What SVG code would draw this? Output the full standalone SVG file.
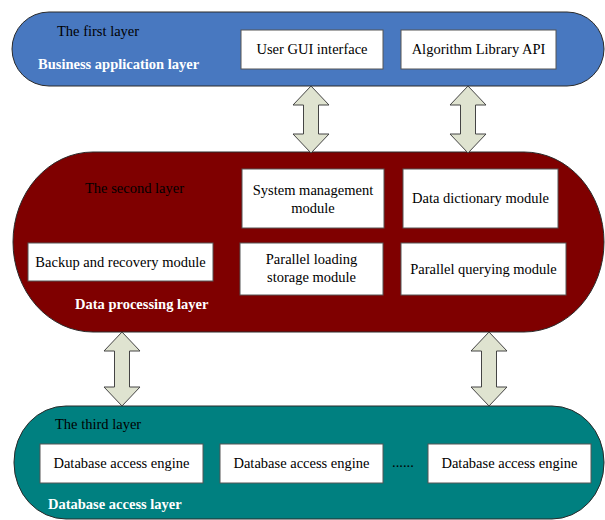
<svg xmlns="http://www.w3.org/2000/svg" width="605" height="520" viewBox="0 0 605 520">
<defs>
<style>
.layer{stroke:#2a2a2a;stroke-width:1}
.box{fill:#ffffff;stroke:#555555;stroke-width:1}
.t{font-family:"Liberation Serif","Times New Roman",serif;font-size:14.5px;fill:#000000}
.c{text-anchor:middle}
.lbl{font-family:"Liberation Serif","Times New Roman",serif;font-size:14.5px;font-weight:bold;fill:#ffffff}
.arr{fill:#dfe3d0;stroke:#444444;stroke-width:1}
</style>
</defs>
<g id="layer1">
<rect class="layer" x="12" y="12" width="592" height="74" rx="37" ry="37" fill="#4878c0"/>
<text class="t" x="57" y="36">The first layer</text>
<text class="lbl" x="38" y="69">Business application layer</text>
</g>
<g id="layer2">
<rect class="layer" x="13" y="152" width="591" height="180" rx="80" ry="90" fill="#7f0000"/>
<text class="t" x="85" y="193">The second layer</text>
<text class="lbl" x="75" y="309">Data processing layer</text>
</g>
<g id="layer3">
<rect class="layer" x="14" y="406" width="590" height="113" rx="52" ry="56" fill="#008080"/>
<text class="t" x="55" y="429">The third layer</text>
<text class="lbl" x="48" y="509">Database access layer</text>
</g>
<g id="gui"><rect class="box" x="241" y="30" width="142" height="39"/><text class="t c" x="312" y="54">User GUI interface</text></g>
<g id="api"><rect class="box" x="401" y="30" width="155" height="39"/><text class="t c" x="478.5" y="54">Algorithm Library API</text></g>
<g id="sysmgmt"><rect class="box" x="242" y="169" width="142" height="59"/><text class="t c" x="313" y="195">System management</text><text class="t c" x="313" y="213">module</text></g>
<g id="datadict"><rect class="box" x="403" y="169" width="155" height="59"/><text class="t c" x="480.5" y="203">Data dictionary module</text></g>
<g id="backup"><rect class="box" x="28" y="243" width="185" height="38"/><text class="t c" x="120.5" y="267">Backup and recovery module</text></g>
<g id="pload"><rect class="box" x="240" y="243" width="143" height="52"/><text class="t c" x="311.5" y="264">Parallel loading</text><text class="t c" x="311.5" y="282">storage module</text></g>
<g id="pquery"><rect class="box" x="401" y="243" width="165" height="52"/><text class="t c" x="483.5" y="274">Parallel querying module</text></g>
<g id="dae1"><rect class="box" x="40" y="444" width="163" height="39"/><text class="t c" x="121.5" y="468">Database access engine</text></g>
<g id="dae2"><rect class="box" x="220" y="444" width="163" height="39"/><text class="t c" x="301.5" y="468">Database access engine</text></g>
<text class="t" x="392" y="467">......</text>
<g id="dae3"><rect class="box" x="428" y="444" width="163" height="39"/><text class="t c" x="509.5" y="468">Database access engine</text></g>
<g id="connectors">
<polygon class="arr" points="311,86 329,105 318.5,105 318.5,134 329,134 311,153 293,134 303.5,134 303.5,105 293,105"/>
<polygon class="arr" points="468,86 486,105 475.5,105 475.5,134 486,134 468,153 450,134 460.5,134 460.5,105 450,105"/>
<polygon class="arr" points="122,332 140,351 129.5,351 129.5,387 140,387 122,406 104,387 114.5,387 114.5,351 104,351"/>
<polygon class="arr" points="489,332 507,351 496.5,351 496.5,387 507,387 489,406 471,387 481.5,387 481.5,351 471,351"/>
</g>
</svg>
